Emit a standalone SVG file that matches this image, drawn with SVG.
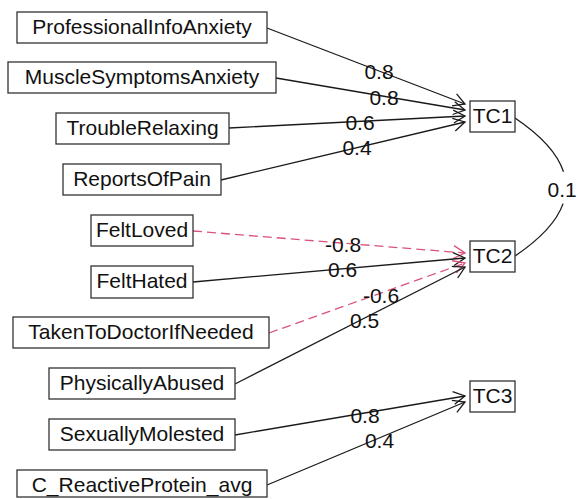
<svg xmlns="http://www.w3.org/2000/svg" width="578" height="499" viewBox="0 0 578 499">
<style>
  .box { fill: #ffffff; stroke: #333333; stroke-width: 1.3; }
  .t { font-family: "Liberation Sans", Arial, sans-serif; font-size: 21px; fill: #111111; text-anchor: middle; }
  .lab { font-family: "Liberation Sans", Arial, sans-serif; font-size: 21px; fill: #111111; text-anchor: middle; }
  .pos { stroke: #1a1a1a; stroke-width: 1.3; fill: none; marker-end: url(#ah); }
  .neg { stroke: #d9537a; stroke-width: 1.3; fill: none; stroke-dasharray: 9 5; marker-end: url(#ahr); }
  .curve { stroke: #1a1a1a; stroke-width: 1.3; fill: none; }
</style>
<defs>
  <marker id="ah" markerUnits="userSpaceOnUse" viewBox="-14 -8 16 16" refX="0" refY="0" markerWidth="16" markerHeight="16" orient="auto">
    <path d="M-11.5,-6.5 L0,0 L-11.5,6.5" fill="none" stroke="#1a1a1a" stroke-width="1.3"/>
  </marker>
  <marker id="ahr" markerUnits="userSpaceOnUse" viewBox="-14 -8 16 16" refX="0" refY="0" markerWidth="16" markerHeight="16" orient="auto">
    <path d="M-11.5,-6.5 L0,0 L-11.5,6.5" fill="none" stroke="#d9537a" stroke-width="1.3"/>
  </marker>
</defs>
<rect width="578" height="499" fill="#ffffff"/>

<g id="connectors">
  <line class="pos" x1="267" y1="28" x2="465" y2="104"/>
  <line class="pos" x1="276" y1="78" x2="465" y2="110"/>
  <line class="pos" x1="229" y1="128" x2="465" y2="116"/>
  <line class="pos" x1="221" y1="180" x2="465" y2="122"/>
  <line class="neg" x1="193" y1="231" x2="465" y2="253"/>
  <line class="pos" x1="193" y1="282" x2="465" y2="258"/>
  <line class="neg" x1="269" y1="333" x2="465" y2="263"/>
  <line class="pos" x1="235" y1="384" x2="465" y2="267"/>
  <line class="pos" x1="235" y1="435" x2="465" y2="396"/>
  <line class="pos" x1="267" y1="485" x2="465" y2="402"/>
  <path class="curve" d="M515,118 Q554.8,144.9 563.5,171.8"/>
  <path class="curve" d="M563.1,203.6 Q553.8,229.8 515,256"/>
  <text class="lab" x="379" y="79">0.8</text>
  <text class="lab" x="384" y="105">0.8</text>
  <text class="lab" x="360" y="130">0.6</text>
  <text class="lab" x="357" y="155">0.4</text>
  <text class="lab" x="343" y="252">-0.8</text>
  <text class="lab" x="342.5" y="277">0.6</text>
  <text class="lab" x="381" y="303">-0.6</text>
  <text class="lab" x="364.5" y="328">0.5</text>
  <text class="lab" x="365" y="423">0.8</text>
  <text class="lab" x="379.5" y="448">0.4</text>
  <text class="lab" x="547.5" y="197" style="text-anchor:start">0.1</text>
</g>

<g id="ProfessionalInfoAnxiety"><rect class="box" x="17" y="12" width="250" height="31"/><text class="t" x="142" y="33.5">ProfessionalInfoAnxiety</text></g>
<g id="MuscleSymptomsAnxiety"><rect class="box" x="8" y="62" width="268" height="31"/><text class="t" x="142" y="83.5">MuscleSymptomsAnxiety</text></g>
<g id="TroubleRelaxing"><rect class="box" x="56" y="113" width="173" height="31"/><text class="t" x="142.5" y="134.5">TroubleRelaxing</text></g>
<g id="ReportsOfPain"><rect class="box" x="63" y="164" width="158" height="31"/><text class="t" x="142" y="185.5">ReportsOfPain</text></g>
<g id="FeltLoved"><rect class="box" x="91" y="215" width="102" height="31"/><text class="t" x="142" y="236.5">FeltLoved</text></g>
<g id="FeltHated"><rect class="box" x="91" y="266" width="102" height="32"/><text class="t" x="142" y="288">FeltHated</text></g>
<g id="TakenToDoctorIfNeeded"><rect class="box" x="13" y="317" width="256" height="31"/><text class="t" x="141" y="338.5">TakenToDoctorIfNeeded</text></g>
<g id="PhysicallyAbused"><rect class="box" x="49" y="368" width="186" height="31"/><text class="t" x="142" y="389.5">PhysicallyAbused</text></g>
<g id="SexuallyMolested"><rect class="box" x="49" y="419" width="186" height="31"/><text class="t" x="142" y="440.5">SexuallyMolested</text></g>
<g id="C_ReactiveProtein_avg"><rect class="box" x="17" y="470" width="250" height="27"/><text class="t" x="142" y="491.5">C_ReactiveProtein_avg</text></g>

<g id="TC1"><rect class="box" x="470" y="101" width="45" height="31"/><text class="t" x="492.5" y="123">TC1</text></g>
<g id="TC2"><rect class="box" x="470" y="241" width="45" height="31"/><text class="t" x="492.5" y="263">TC2</text></g>
<g id="TC3"><rect class="box" x="470" y="381" width="45" height="31"/><text class="t" x="492.5" y="403">TC3</text></g>
</svg>
